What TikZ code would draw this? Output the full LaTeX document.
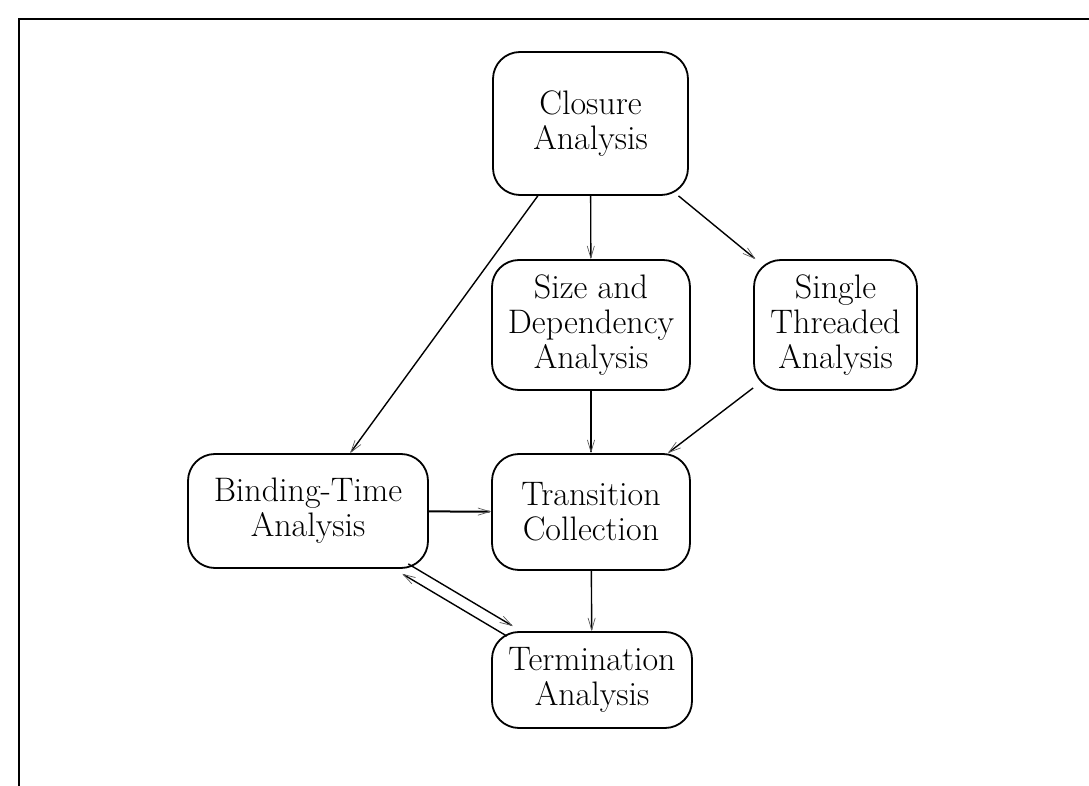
\documentclass[tikz,border=0pt]{standalone}
\usetikzlibrary{arrows.meta}
\begin{document}
\begin{tikzpicture}[x=0.5pt,y=-0.5pt,
  box/.style={draw, line width=0.9pt, rounded corners=13.5pt, align=center,
    font=\fontsize{17}{17.5}\selectfont, inner sep=0pt},
  arr/.style={line width=0.7pt, -{Straight Barb[length=6pt,width=3.6pt,line width=0.35pt,color=black!65]}},
  thickarr/.style={arr, line width=1pt},
  frameline/.style={line width=1pt}]
\useasboundingbox (0,0) rectangle (1089,786);
\draw[frameline] (19,786) -- (19,19) -- (1089,19);
\node[box, minimum width=97.5pt, minimum height=71.5pt] (clo) at (590.5,123.5) {Closure\\Analysis};
\node[box, minimum width=99pt, minimum height=65pt] (size) at (591,325) {Size and\\Dependency\\Analysis};
\node[box, minimum width=81.5pt, minimum height=65pt] (single) at (835.5,325) {Single\\Threaded\\Analysis};
\node[box, minimum width=120pt, minimum height=57pt] (bind) at (308,511) {Binding-Time\\Analysis};
\node[box, minimum width=99pt, minimum height=58pt] (trans) at (591,512) {Transition\\Collection};
\node[box, minimum width=100pt, minimum height=48pt] (term) at (592,680) {Termination\\Analysis};
\draw[arr] (clo) -- (size);
\draw[arr] (clo) -- (single);
\draw[arr] (clo) -- (bind);
\draw[arr] (size) -- (trans);
\draw[arr] (single) -- (trans);
\draw[thickarr] (bind) -- (trans);
\draw[arr] (trans) -- (term);
\draw[arr, transform canvas={shift={(-1.48pt,-2.49pt)}}] (term) -- (bind);
\draw[arr, transform canvas={shift={(1.48pt,2.49pt)}}] (bind) -- (term);
\end{tikzpicture}
\end{document}
